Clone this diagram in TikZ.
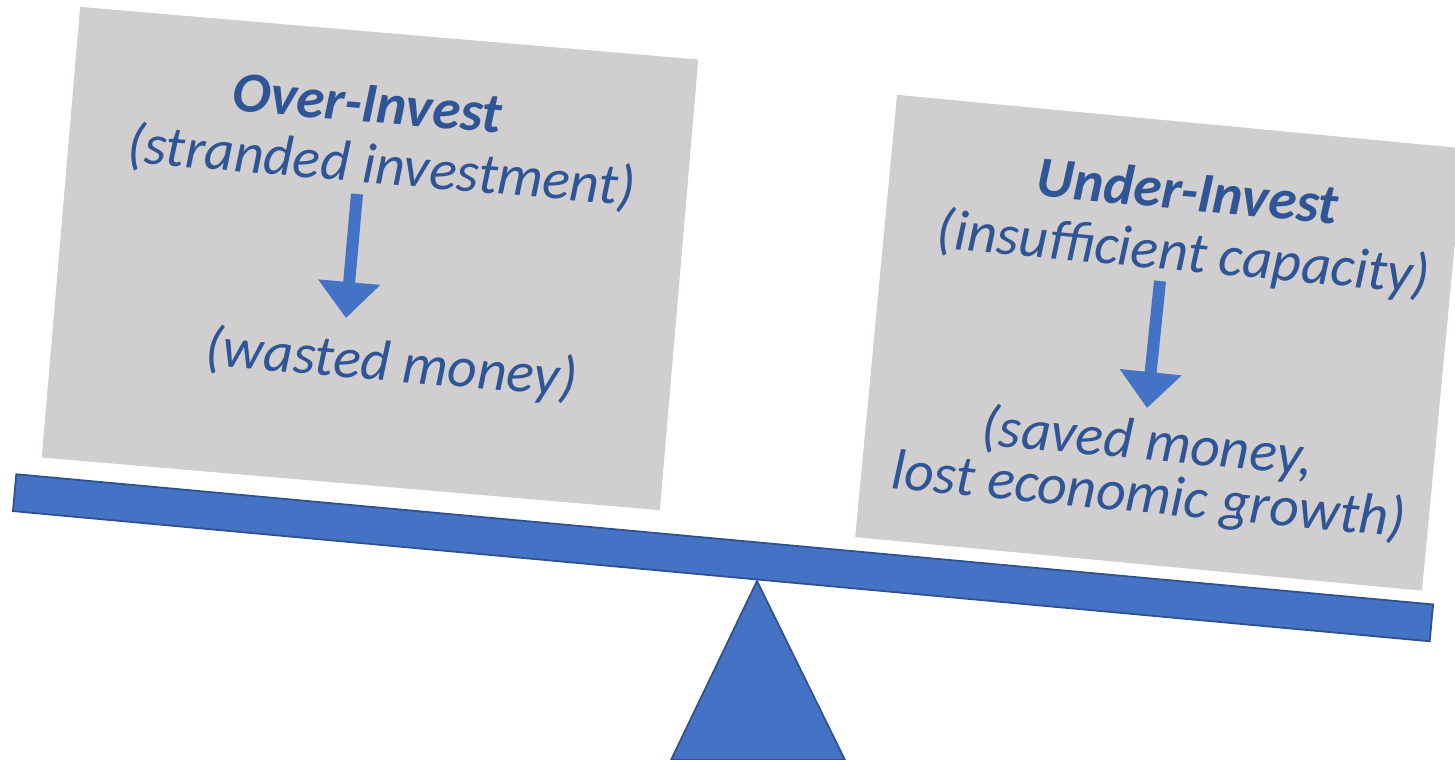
\documentclass[tikz,border=0pt]{standalone}
\usepackage{fontspec}
\setmainfont{Carlito}
\usetikzlibrary{arrows.meta}
\definecolor{boxgrey}{HTML}{D0CECE}
\definecolor{beamblue}{HTML}{4472C4}
\definecolor{beamedge}{HTML}{2F528F}
\definecolor{txtblue}{HTML}{2F5597}
\tikzset{
  greybox/.style={fill=boxgrey, draw=none, inner sep=0pt},
  beamstyle/.style={fill=beamblue, draw=beamedge, line width=0.5pt, inner sep=0pt},
  lbl/.style={text=txtblue, font=\fontsize{16.3}{18}\selectfont\itshape, inner sep=0pt, anchor=base},
  ttl/.style={lbl, font=\fontsize{16.2}{18}\selectfont\bfseries\itshape},
  downarrow/.style={draw=beamblue, line width=0.12cm, -{Triangle[width=0.6cm,length=0.36cm]}}
}
\begin{document}
\begin{tikzpicture}[x=0.01cm,y=-0.01cm]
\useasboundingbox (0,0) rectangle (1455,759);
\clip (0,0) rectangle (1455,759);
% grey boxes
\node[greybox, minimum width=6.2cm, minimum height=4.52cm, rotate=-4.87] (L) at (370,258.5) {};
\node[greybox, minimum width=5.69cm, minimum height=4.44cm, rotate=-5.4] (R) at (1159.5,342.75) {};
% beam and fulcrum
\node[beamstyle, minimum width=14.22cm, minimum height=0.37cm, rotate=-5.25] (beam) at (723,557.75) {};
\coordinate (apex) at (757,581);
\coordinate (baseR) at (845,760);
\coordinate (baseL) at (671,760);
\draw[beamstyle] (apex) -- (baseR) -- (baseL) -- cycle;
% left texts
\node[ttl, rotate=-4.87] (over) at (366,122) {Over-Invest};
\node[lbl, rotate=-4.87] (stranded) at (380,184) {(stranded investment)};
\node[lbl, rotate=-4.87] (wasted) at (390,381) {(wasted money)};
\coordinate (la1) at (357,194);
\coordinate (la2) at (346,318);
\draw[downarrow] (la1) -- (la2);
% right texts
\node[ttl, rotate=-5.4] (under) at (1186,210) {Under-Invest};
\node[lbl, rotate=-5.4] (insuff) at (1182,271) {(insufficient capacity)};
\node[lbl, rotate=-5.4] (saved) at (1146,460) {(saved money,};
\node[lbl, rotate=-5.4] (lost) at (1147,513) {lost economic growth)};
\coordinate (ra1) at (1160,281);
\coordinate (ra2) at (1147,408);
\draw[downarrow] (ra1) -- (ra2);
\end{tikzpicture}
\end{document}
